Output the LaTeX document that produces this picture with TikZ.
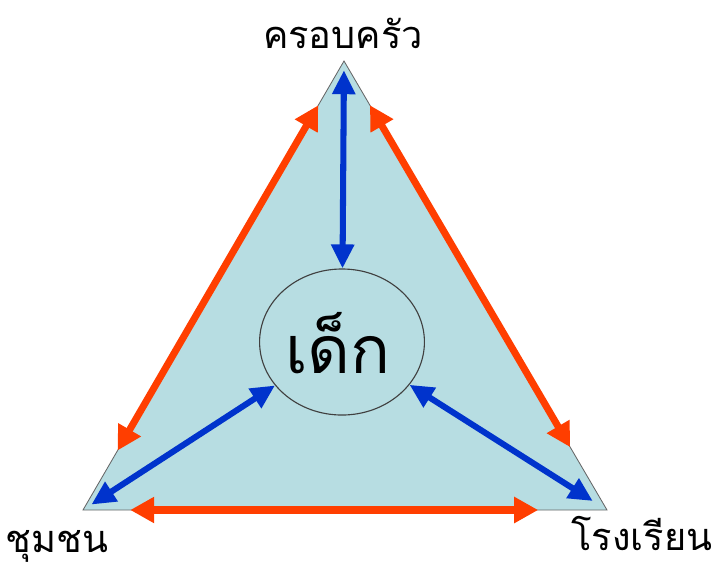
\documentclass[tikz,border=0pt]{standalone}
\usepackage{fontspec}
\newfontfamily\thaifont[Script=Thai]{Loma}
\usetikzlibrary{positioning, arrows.meta, shapes.geometric}
\definecolor{paleblue}{RGB}{183,221,226}
\definecolor{linkred}{RGB}{255,62,0}
\definecolor{linkblue}{RGB}{0,51,204}
\tikzset{
  corner/.style  = {anchor=base, inner sep=0pt, font=\thaifont\fontsize{27}{30}\selectfont},
  child/.style   = {ellipse, draw=black!75, line width=0.8pt, minimum width=4.12cm, minimum height=3.65cm, inner sep=0pt},
  childtext/.style = {anchor=base, inner sep=0pt, font=\thaifont\fontsize{47}{50}\selectfont},
  redarr/.style  = {{Triangle[length=0.6cm,width=0.62cm]}-{Triangle[length=0.6cm,width=0.62cm]}, draw=linkred, line width=5pt},
  bluearr/.style = {{Triangle[length=0.6cm,width=0.55cm]}-{Triangle[length=0.6cm,width=0.55cm]}, draw=linkblue, line width=4.3pt}
}

\begin{document}
\begin{tikzpicture}[x=0.025cm, y=-0.025cm]
        \useasboundingbox (0,0) rectangle (720,567);
        \coordinate (top)   at (344, 61);
        \coordinate (left)  at (83, 510);
        \coordinate (right) at (607, 510);
        \fill[paleblue, draw=black!60, line width=0.6pt] (top) -- (left) -- (right) -- cycle;
        \node[child]     (kid)    at (342, 342) {};
        \node[childtext] (kidname) at (338, 373) {เด็ก};
        \node[corner] (family) at (343, 48)  {ครอบครัว};
        \node[corner] (commun) at (57, 552)  {ชุมชน};
        \node[corner] (school) at (642, 550) {โรงเรียน};
        % links between the three corners
        \draw[redarr, shorten <=1.28cm, shorten >=1.72cm] (top) -- (left);
        \draw[redarr, shorten <=1.18cm, shorten >=1.72cm] (left) -- (right);
        \draw[redarr, shorten <=1.28cm, shorten >=1.82cm] (top) -- (right);
        % links to the child
        \draw[bluearr, shorten <=0.23cm] (top) -- (kid);
        \draw[bluearr, shorten <=0.25cm] (left) -- (kid);
        \draw[bluearr, shorten <=0.42cm] (right) -- (kid);
      \end{tikzpicture}
\end{document}
